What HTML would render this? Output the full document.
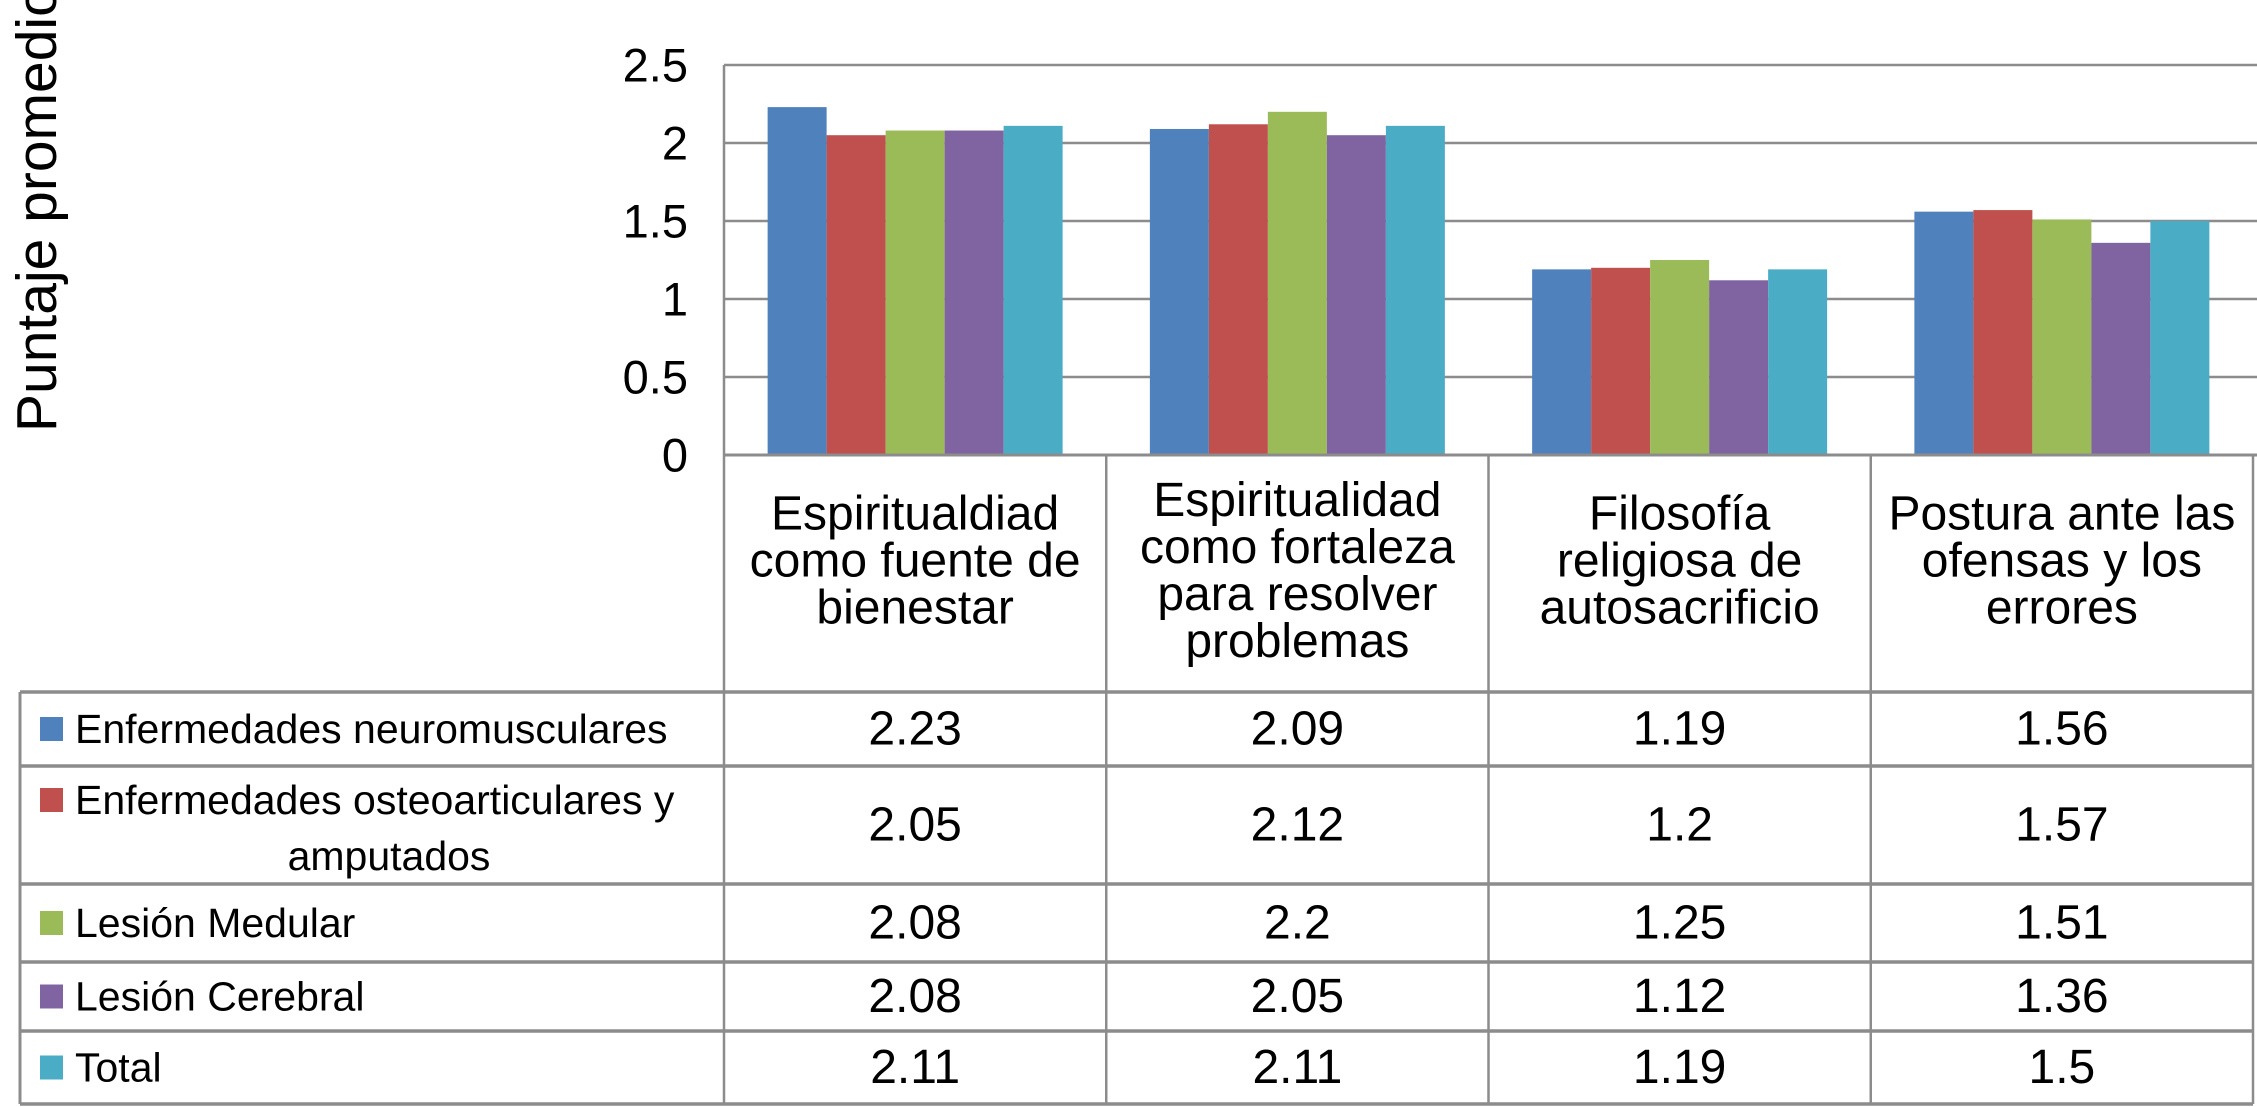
<!DOCTYPE html>
<html><head><meta charset="utf-8"><style>
html,body{margin:0;padding:0;background:#fff;}
svg{display:block;font-family:"Liberation Sans",Arial,sans-serif;}
</style></head><body>
<svg id="chart" width="2257" height="1107" viewBox="0 0 2257 1107" xmlns="http://www.w3.org/2000/svg"></svg>
<script>
const categories = [
  ["Espiritualdiad","como fuente de","bienestar"],
  ["Espiritualidad","como fortaleza","para resolver","problemas"],
  ["Filosofía","religiosa de","autosacrificio"],
  ["Postura ante las","ofensas y los","errores"]
];
const seriesNames = [["Enfermedades neuromusculares"],["Enfermedades osteoarticulares y","amputados"],["Lesión Medular"],["Lesión Cerebral"],["Total"]];
const sNeuro = [2.23, 2.09, 1.19, 1.56];
const sOsteo = [2.05, 2.12, 1.2, 1.57];
const sMedular = [2.08, 2.2, 1.25, 1.51];
const sCerebral = [2.08, 2.05, 1.12, 1.36];
const sTotal = [2.11, 2.11, 1.19, 1.5];
const seriesLabels = [
  ["2.23","2.09","1.19","1.56"],
  ["2.05","2.12","1.2","1.57"],
  ["2.08","2.2","1.25","1.51"],
  ["2.08","2.05","1.12","1.36"],
  ["2.11","2.11","1.19","1.5"]
];
const yTicks = [0, 0.5, 1, 1.5, 2, 2.5];
const yTickLabels = ["0","0.5","1","1.5","2","2.5"];
const series = [sNeuro, sOsteo, sMedular, sCerebral, sTotal];
const colors = ["#4F81BD","#C0504D","#9BBB59","#8064A2","#4BACC6"];

const NS="http://www.w3.org/2000/svg";
const svg=document.getElementById('chart');
const X0=724, X1=2253, Y0=455, YMAX=2.5, YTOP=65;
const colW=(X1-X0)/categories.length;
function y(v){return Y0-(v/YMAX)*(Y0-YTOP);}
function colX(i){return X0+i*colW;}
function el(tag,attrs){const e=document.createElementNS(NS,tag);for(const k in attrs)e.setAttribute(k,attrs[k]);svg.appendChild(e);return e;}
function txt(s,x,yy,size,anchor){
  const t=el('text',{x:x,y:yy,'font-size':size,'text-anchor':anchor||'middle','dominant-baseline':'central',fill:'#000'});
  t.textContent=s;return t;
}
const GRID="#8c8c8c";
yTicks.forEach((v,i)=>{
  const l=el('line',{x1:X0,x2:2257,y1:y(v),y2:y(v),stroke:GRID,'stroke-width':2.5});
  
  
  const t=txt(yTickLabels[i],688,y(v),47,'end');
  
  
});
const yt=el('text',{x:0,y:0,'font-size':57,'text-anchor':'start',fill:'#000',transform:'translate(56,432) rotate(-90)'});
yt.textContent='Puntaje promedio';


const barW=59, off=(colW-barW*5)/2;
series.forEach((s,si)=>{
  s.forEach((v,ci)=>{
    const r=el('rect',{x:colX(ci)+off+si*barW,y:y(v),width:barW,height:Y0-y(v),fill:colors[si]});
    
    
  });
});
el('line',{x1:X0,x2:X0,y1:YTOP,y2:1104,stroke:GRID,'stroke-width':2.5});
for(let i=1;i<=categories.length;i++){el('line',{x1:colX(i),x2:colX(i),y1:Y0,y2:1104,stroke:GRID,'stroke-width':2.5});}
el('line',{x1:X0,x2:2257,y1:Y0,y2:Y0,stroke:GRID,'stroke-width':3});
const rowLines=[692,766,884,962,1031,1104];
rowLines.forEach(ry=>el('line',{x1:20,x2:X1,y1:ry,y2:ry,stroke:GRID,'stroke-width':3.5}));
el('line',{x1:20,x2:20,y1:692,y2:1104,stroke:GRID,'stroke-width':3});
categories.forEach((lines,ci)=>{
  const cy=573, lh=47, start=cy-(lines.length-1)*lh/2+(lines.length===4?-2:-12);
  lines.forEach((ln,li)=>{
    const t=txt(ln,colX(ci)+colW/2,start+li*lh,48,'middle');
    
    
  });
});
seriesNames.forEach((nm,si)=>{
  const top=rowLines[si], bot=rowLines[si+1];
  const cy=(top+bot)/2;
  const ly = nm.length>1 ? top+34 : cy;
  const sw=el('rect',{x:40,y:ly-12,width:23,height:24,fill:colors[si]});
  
  
  const t=txt(nm[0],75,ly,41,'start');
  
  
  if(nm.length>1){
    const t2=txt(nm[1],389,top+90,41,'middle');
    
    
  }
  seriesLabels[si].forEach((lab,ci)=>{
    const v=txt(lab,colX(ci)+colW/2,cy,48,'middle');
    
    
  });
});
</script>
</body></html>
